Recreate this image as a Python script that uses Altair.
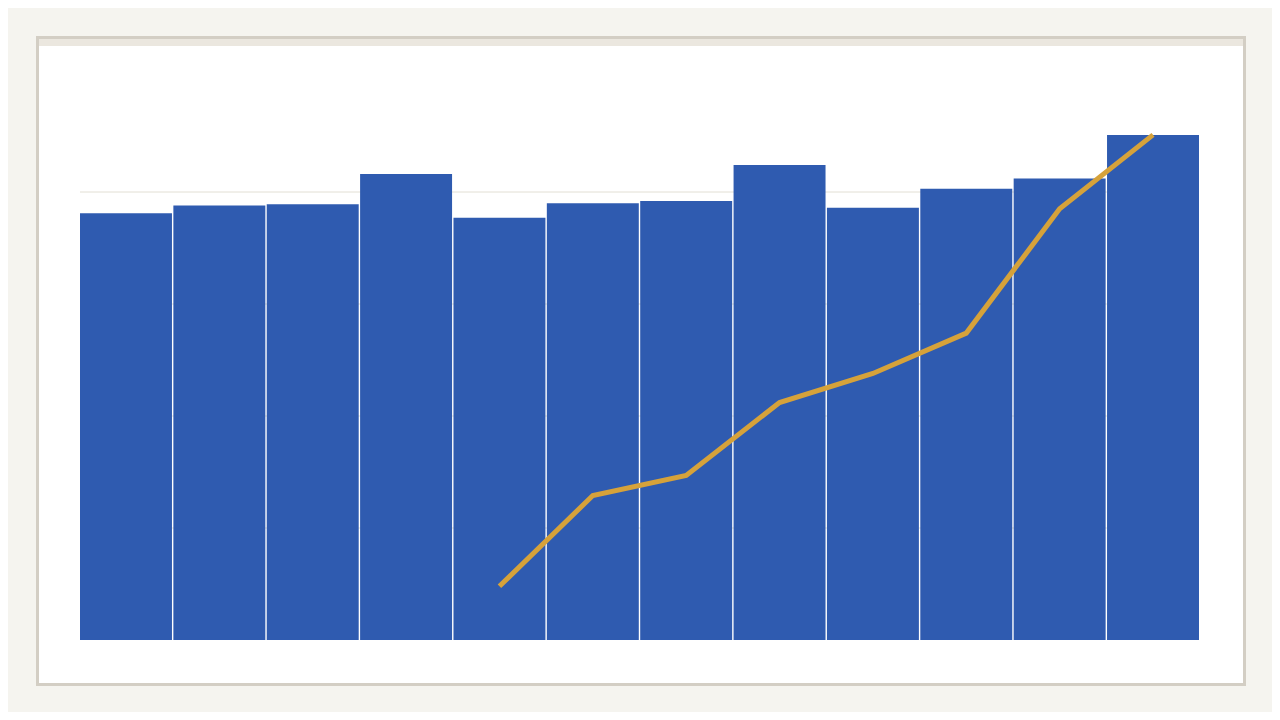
import altair as alt
import pandas as pd

# Data (units: gridline step = 10)
categories = ["1", "2", "3", "4", "5", "6", "7", "8", "9", "10", "11", "12"]
bar_values = [38.1, 38.8, 38.9, 41.6, 37.7, 39.0, 39.2, 42.4, 38.6, 40.3, 41.2, 45.1]
line_categories = ["5", "6", "7", "8", "9", "10", "11", "12"]
line_values = [4.8, 12.9, 14.7, 21.2, 23.8, 27.4, 38.5, 45.1]
grid_values = [10, 20, 30, 40]

W, H = 1119, 560

bars_df = pd.DataFrame({"cat": categories, "v": bar_values})
line_df = pd.DataFrame({"cat": line_categories, "v": line_values})
grid_df = pd.DataFrame({"g": grid_values})
card_df = pd.DataFrame({"k": [0]})

xs = alt.Scale(domain=categories, paddingInner=0.015, paddingOuter=0)
ys = alt.Scale(domain=[0, 50], nice=False, zero=True)

card = alt.Chart(card_df).mark_rect(
    fill="white", stroke="#d3cec4", strokeWidth=3
).encode(
    x=alt.value(-42.5), x2=alt.value(W + 45.5),
    y=alt.value(-42.5), y2=alt.value(H + 44.5),
)

header = alt.Chart(card_df).mark_rect(fill="#ebe7df").encode(
    x=alt.value(-41), x2=alt.value(W + 44),
    y=alt.value(-41), y2=alt.value(-34),
)

grid = alt.Chart(grid_df).mark_rule(color="#e2dfd4", strokeWidth=1).encode(
    y=alt.Y("g:Q", scale=ys, axis=None),
    x=alt.value(0), x2=alt.value(W),
)

bars = alt.Chart(bars_df).mark_bar(color="#2f5bb0").encode(
    x=alt.X("cat:N", scale=xs, axis=None, sort=categories),
    y=alt.Y("v:Q", scale=ys, axis=None),
)

line = alt.Chart(line_df).mark_line(
    color="#d6a23a", strokeWidth=5, strokeCap="butt", strokeJoin="miter"
).encode(
    x=alt.X("cat:N", scale=xs, axis=None, sort=categories),
    y=alt.Y("v:Q", scale=ys, axis=None),
)

chart = alt.layer(card, header, grid, bars, line).properties(
    width=W, height=H,
    autosize=alt.AutoSizeParams(type="none"),
    padding={"left": 72, "top": 72, "right": 73, "bottom": 72},
    background="#f5f4ef",
).configure_view(stroke=None)

chart.save("out.html", embed_options={"renderer": "svg", "actions": False})
